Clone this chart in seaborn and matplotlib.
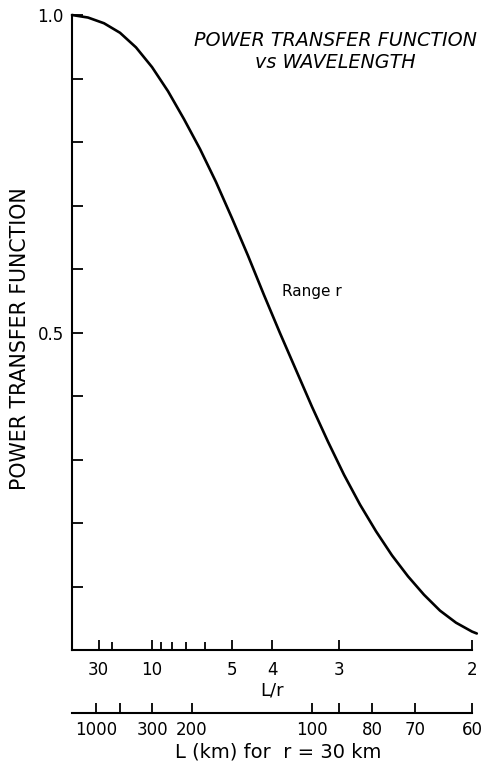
import numpy as np
import pandas as pd
import matplotlib
matplotlib.use("Agg")
import matplotlib.pyplot as plt
import seaborn as sns

# Power transfer function sampled along r/L (0 = infinite wavelength, 0.5 = L/r of 2)
r_over_L = [0.000, 0.020, 0.040, 0.060, 0.080, 0.100, 0.120, 0.140, 0.160,
            0.180, 0.200, 0.220, 0.240, 0.260, 0.280, 0.300, 0.320, 0.340,
            0.360, 0.380, 0.400, 0.420, 0.440, 0.460, 0.480, 0.500, 0.506]
power = [1.000, 0.996, 0.987, 0.972, 0.949, 0.918, 0.880, 0.836, 0.789,
         0.737, 0.680, 0.621, 0.559, 0.499, 0.441, 0.383, 0.328, 0.276,
         0.229, 0.187, 0.149, 0.116, 0.087, 0.062, 0.043, 0.029, 0.026]

# L/r scale (ticks placed at r/L = 1/(L/r))
lr_major = [30, 10, 5, 4, 3, 2]
lr_minor = [20, 9, 8, 7, 6]

# Wavelength in km for a range of 30 km
range_km = 30
km_ticks = [1000, 500, 300, 200, 100, 90, 80, 70, 60]
km_labels = ["1000", "", "300", "200", "100", "", "80", "70", "60"]

y_ticks = [0.1, 0.2, 0.3, 0.4, 0.5, 0.6, 0.7, 0.8, 0.9, 1.0]
y_labels = ["", "", "", "", "0.5", "", "", "", "", "1.0"]

sns.set_theme(style="white")
plt.rcParams["font.family"] = ["DejaVu Sans"]

W, H = 482, 768
fig = plt.figure(figsize=(W / 100, H / 100), dpi=100)

left, right = 72 / W, 472 / W
top, bottom = 1 - 15 / H, 1 - 650 / H
ax = fig.add_axes([left, bottom, right - left, top - bottom])

df = pd.DataFrame({"r_over_L": r_over_L, "power": power})
sns.lineplot(data=df, x="r_over_L", y="power", ax=ax, color="black",
             linewidth=1.9, clip_on=False)

ax.set_xlim(0, 0.5)
ax.set_ylim(0, 1.0)
for s in ("top", "right"):
    ax.spines[s].set_visible(False)
for s in ("left", "bottom"):
    ax.spines[s].set_color("black")
    ax.spines[s].set_linewidth(1.5)

ax.set_xticks([1 / v for v in lr_major])
ax.set_xticklabels([str(v) for v in lr_major])
ax.set_xticks([1 / v for v in lr_minor], minor=True)
ax.tick_params(axis="x", which="both", direction="in", length=7, width=1.3,
               colors="black", pad=8, labelsize=12, bottom=True)
ax.tick_params(axis="x", which="minor", length=6)

ax.set_yticks(y_ticks)
ax.set_yticklabels(y_labels)
ax.tick_params(axis="y", direction="in", length=8, width=1.3, colors="black",
               pad=6, labelsize=12, left=True)

ax.set_xlabel("L/r", fontsize=13, color="black")
ax.xaxis.set_label_coords(0.5, -0.050)
ax.set_ylabel("POWER TRANSFER FUNCTION", fontsize=14.8, color="black")
ax.yaxis.set_label_coords(-0.105, 0.491)

# Second scale: wavelength in km
b2 = 1 - 713 / H
ax2 = fig.add_axes([left, b2, right - left, 0.0001])
ax2.set_xlim(0, 0.5)
ax2.set_ylim(0, 1)
for s in ("top", "right", "left"):
    ax2.spines[s].set_visible(False)
ax2.spines["bottom"].set_color("black")
ax2.spines["bottom"].set_linewidth(1.5)
ax2.set_yticks([])
ax2.set_facecolor("none")
ax2.set_xticks([range_km / v for v in km_ticks])
ax2.set_xticklabels(km_labels)
ax2.tick_params(axis="x", direction="in", length=7, width=1.3, colors="black",
                pad=6, labelsize=12, bottom=True)
ax2.set_xlabel("L (km) for  r = 30 km", fontsize=14, color="black")
ax2.xaxis.set_label_coords(278 / W, 1 - 742 / H, transform=fig.transFigure)

fig.text(0.695, 1 - 51.5 / H, "POWER TRANSFER FUNCTION\nvs WAVELENGTH",
         ha="center", va="center", fontsize=13.8, style="italic",
         linespacing=1.2, color="black")
ax.text(0.262, 0.565, "Range r", fontsize=11, color="black",
        transform=ax.transData, va="center")

fig.savefig("out.png", dpi=100)
